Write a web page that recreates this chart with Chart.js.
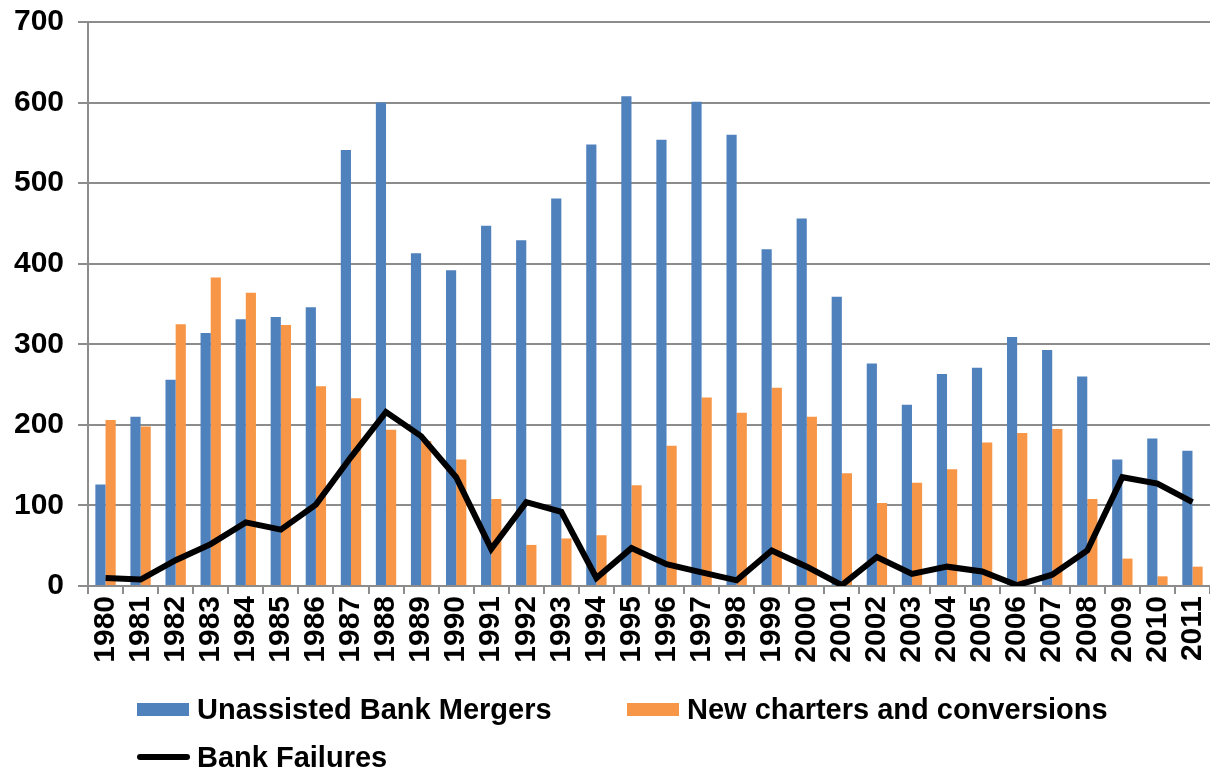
<!DOCTYPE html>
<html>
<head>
<meta charset="utf-8">
<script src="https://cdn.jsdelivr.net/npm/chart.js@4/dist/chart.umd.min.js"></script>
<style>
  html, body { margin: 0; padding: 0; background: #fff; }
  #wrap { position: relative; width: 1210px; height: 771px; }
  #legend { position: absolute; left: 0; top: 0; width: 1210px; height: 771px; pointer-events: none;
    font-family: "Liberation Sans", Arial, sans-serif; font-weight: bold; font-size: 29px; color: #000; }
  .item { position: absolute; display: flex; align-items: center; white-space: nowrap; }
  .box { width: 52px; height: 13px; margin-right: 8px; }
  .line { width: 53px; height: 6px; border-radius: 3px; margin-right: 7px; }
</style>
</head>
<body>
<div id="wrap">
  <canvas id="chart" width="1210" height="771"></canvas>
  <div id="legend"></div>
</div>
<script>
const years = ['1980', '1981', '1982', '1983', '1984', '1985', '1986', '1987', '1988', '1989', '1990',
  '1991', '1992', '1993', '1994', '1995', '1996', '1997', '1998', '1999', '2000',
  '2001', '2002', '2003', '2004', '2005', '2006', '2007', '2008', '2009', '2010', '2011'];

const mergers = [126, 210, 256, 314, 331, 334, 346, 541, 600, 413, 392,
  447, 429, 481, 548, 608, 554, 601, 560, 418, 456,
  359, 276, 225, 263, 271, 309, 293, 260, 157, 183, 168];

const newCharters = [206, 198, 325, 383, 364, 324, 248, 233, 194, 180, 157,
  108, 51, 59, 63, 125, 174, 234, 215, 246, 210,
  140, 103, 128, 145, 178, 190, 195, 108, 34, 12, 24];

const failures = [10, 8, 32, 52, 79, 70, 101, 160, 216, 186, 135,
  46, 104, 92, 10, 47, 27, 17, 7, 44, 24,
  1, 36, 15, 24, 18, 1, 14, 44, 135, 127, 104];

const yTicks = [0, 100, 200, 300, 400, 500, 600, 700];

const BLUE = '#4F81BD';
const ORANGE = '#F79646';
const GRID = '#8c8c8c';
const tickFont = { family: '"Liberation Sans", Arial, sans-serif', size: 30, weight: 'bold' };

new Chart(document.getElementById('chart'), {
  type: 'bar',
  data: {
    labels: years,
    datasets: [
      {
        type: 'line',
        label: 'Bank Failures',
        data: failures,
        borderColor: '#000',
        backgroundColor: '#000',
        borderWidth: 6,
        pointRadius: 0,
        tension: 0,
        order: 0,
      },
      {
        label: 'Unassisted Bank Mergers',
        data: mergers,
        backgroundColor: BLUE,
        categoryPercentage: 0.58,
        barPercentage: 1.0,
        order: 1,
      },
      {
        label: 'New charters and conversions',
        data: newCharters,
        backgroundColor: ORANGE,
        categoryPercentage: 0.58,
        barPercentage: 1.0,
        order: 1,
      },
    ],
  },
  options: {
    responsive: false,
    animation: false,
    layout: { padding: { top: 22, left: 0, right: 0, bottom: 0 } },
    plugins: {
      legend: { display: false },
      tooltip: { enabled: false },
    },
    scales: {
      x: {
        grid: { drawOnChartArea: false, color: GRID, lineWidth: 2, tickLength: 8 },
        border: { color: GRID, width: 2 },
        ticks: { font: tickFont, color: '#000', minRotation: 90, maxRotation: 90, padding: 2, autoSkip: false },
        afterFit: axis => {
          axis.height = 185;
          axis.paddingLeft = 0;
          axis.paddingRight = 0;
        },
      },
      y: {
        min: 0,
        max: 700,
        afterBuildTicks: axis => { axis.ticks = yTicks.map(v => ({ value: v })); },
        grid: { color: GRID, lineWidth: 2, tickLength: 10 },
        border: { color: GRID, width: 2 },
        ticks: { font: tickFont, color: '#000', padding: 14 },
        afterFit: axis => {
          axis.width = 88;
          axis.paddingTop = 0;
          axis.paddingBottom = 0;
        },
      },
    },
  },
});

// legend drawn as html below the chart
const legendItems = [
  { label: 'Unassisted Bank Mergers', color: BLUE, kind: 'box', left: 137, top: 709 },
  { label: 'New charters and conversions', color: ORANGE, kind: 'box', left: 627, top: 709 },
  { label: 'Bank Failures', color: '#000', kind: 'line', left: 137, top: 757 },
];
const legend = document.getElementById('legend');
legendItems.forEach(it => {
  const el = document.createElement('div');
  el.className = 'item';
  el.style.left = it.left + 'px';
  el.style.top = (it.top - 17) + 'px';
  el.style.height = '34px';
  const sw = document.createElement('span');
  sw.className = it.kind;
  sw.style.background = it.color;
  const tx = document.createElement('span');
  tx.textContent = it.label;
  el.appendChild(sw);
  el.appendChild(tx);
  legend.appendChild(el);
});
</script>
</body>
</html>
